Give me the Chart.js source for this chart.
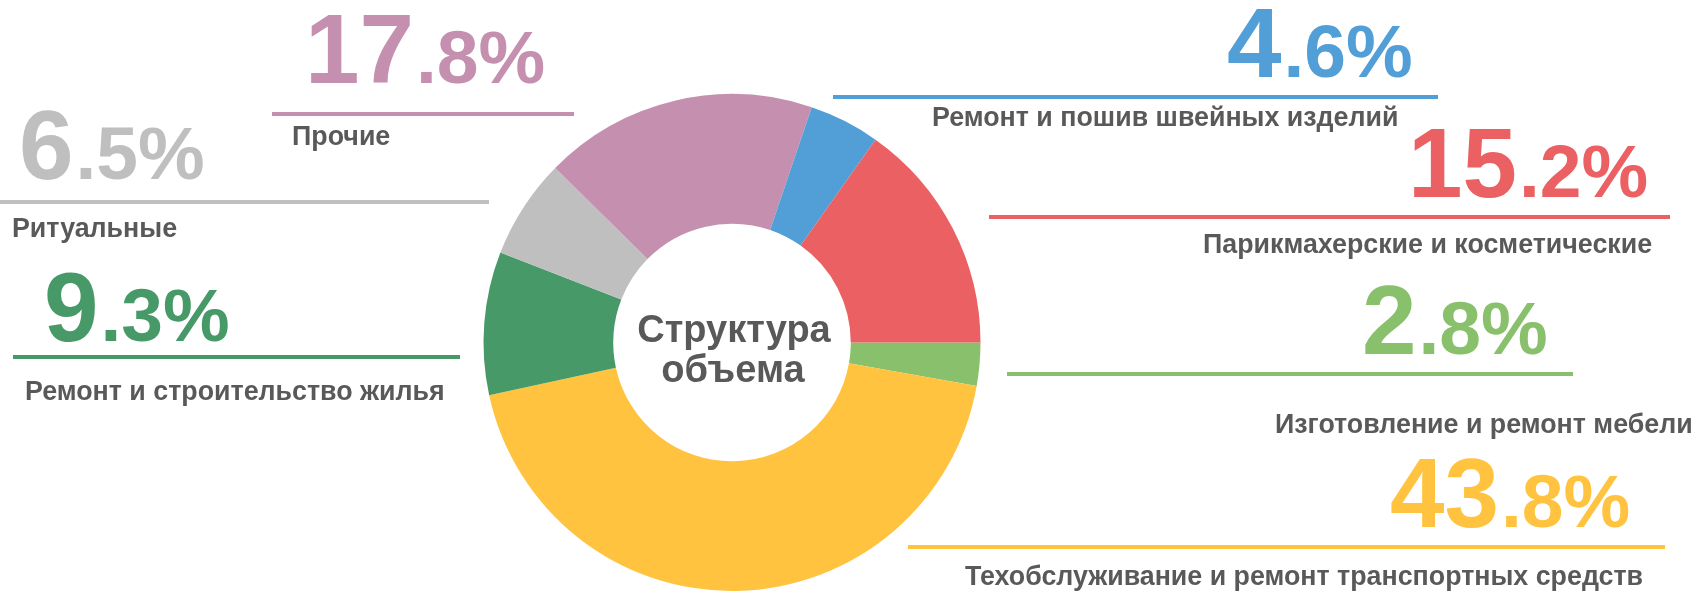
<!DOCTYPE html>
<html lang="ru">
<head>
    <meta charset="UTF-8">
    <title>Структура объема</title>
    <script src="https://cdn.jsdelivr.net/npm/chart.js"></script>
    <style>
        html, body {
            margin: 0;
            padding: 0;
            background: #ffffff;
            overflow: hidden;
        }
        .chart-container {
            position: relative;
            width: 1691px;
            height: 591px;
        }
    </style>
</head>
<body>
    <div class="chart-container">
        <canvas id="structureChart"></canvas>
    </div>

    <script>
        // Данные: доли видов услуг, по часовой стрелке начиная с 3 часов
        const categories = [
            'Изготовление и ремонт мебели',
            'Техобслуживание и ремонт транспортных средств',
            'Ремонт и строительство жилья',
            'Ритуальные',
            'Прочие',
            'Ремонт и пошив швейных изделий',
            'Парикмахерские и косметические'
        ];
        const shares = [2.8, 43.8, 9.3, 6.5, 17.8, 4.6, 15.2];
        const colors = ['#88C06B', '#FFC33F', '#479A68', '#BFBFBF', '#C590B0', '#529FD7', '#EB6062'];
        const centerTitle = ['Структура', 'объема'];

        // Расположение подписей (левый край, базовая линия) и линий под числами
        const layout = [
            { numX: 1365, numY: 354, lineX1: 1007, lineX2: 1573, lineY: 374, textX: 1276, textY: 433 },
            { numX: 1391, numY: 527, lineX1: 908,  lineX2: 1665, lineY: 547, textX: 965,  textY: 585 },
            { numX: 47,   numY: 341, lineX1: 13,   lineX2: 460,  lineY: 357, textX: 26,   textY: 400 },
            { numX: 22,   numY: 179, lineX1: 0,    lineX2: 489,  lineY: 202, textX: 13,   textY: 237 },
            { numX: 311,  numY: 83,  lineX1: 272,  lineX2: 574,  lineY: 114, textX: 293,  textY: 145 },
            { numX: 1228, numY: 77,  lineX1: 833,  lineX2: 1438, lineY: 97,  textX: 933,  textY: 126 },
            { numX: 1414, numY: 197, lineX1: 989,  lineX2: 1670, lineY: 217, textX: 1204, textY: 253 }
        ];

        const FONT = '"Liberation Sans", Arial, sans-serif';
        const TEXT_COLOR = '#595959';

        // Плагин: числа, линии и подписи категорий + текст в центре
        const calloutPlugin = {
            id: 'callouts',
            afterDraw(chart) {
                const ctx = chart.ctx;
                ctx.save();
                ctx.textAlign = 'left';
                ctx.textBaseline = 'alphabetic';
                categories.forEach((name, i) => {
                    const p = layout[i];
                    const color = colors[i];

                    ctx.strokeStyle = color;
                    ctx.lineWidth = 4;
                    ctx.beginPath();
                    ctx.moveTo(p.lineX1, p.lineY);
                    ctx.lineTo(p.lineX2, p.lineY);
                    ctx.stroke();

                    const parts = shares[i].toFixed(1).split('.');
                    ctx.fillStyle = color;
                    ctx.font = 'bold 98px ' + FONT;
                    const m = ctx.measureText(parts[0]);
                    const x0 = p.numX + m.actualBoundingBoxLeft;
                    ctx.fillText(parts[0], x0, p.numY);
                    ctx.font = 'bold 75px ' + FONT;
                    ctx.fillText('.' + parts[1] + '%', x0 + m.width + 2, p.numY);

                    ctx.fillStyle = TEXT_COLOR;
                    ctx.font = 'bold 26.8px ' + FONT;
                    const lm = ctx.measureText(name);
                    ctx.fillText(name, p.textX + lm.actualBoundingBoxLeft, p.textY);
                });

                const arc = chart.getDatasetMeta(0).data[0];
                ctx.fillStyle = TEXT_COLOR;
                ctx.font = 'bold 38px ' + FONT;
                ctx.textAlign = 'center';
                ctx.fillText(centerTitle[0], arc.x + 2, 342);
                ctx.fillText(centerTitle[1], arc.x + 1, 382);
                ctx.restore();
            }
        };

        const ctx = document.getElementById('structureChart').getContext('2d');
        const structureChart = new Chart(ctx, {
            type: 'doughnut',
            data: {
                labels: categories,
                datasets: [{
                    data: shares,
                    backgroundColor: colors,
                    borderWidth: 0
                }]
            },
            options: {
                responsive: true,
                maintainAspectRatio: false,
                animation: false,
                rotation: 90,
                cutout: '47.8%',
                layout: {
                    padding: { left: 482, right: 709, top: 94, bottom: -3 }
                },
                plugins: {
                    legend: { display: false },
                    tooltip: { enabled: false }
                }
            },
            plugins: [calloutPlugin]
        });
    </script>
</body>
</html>
